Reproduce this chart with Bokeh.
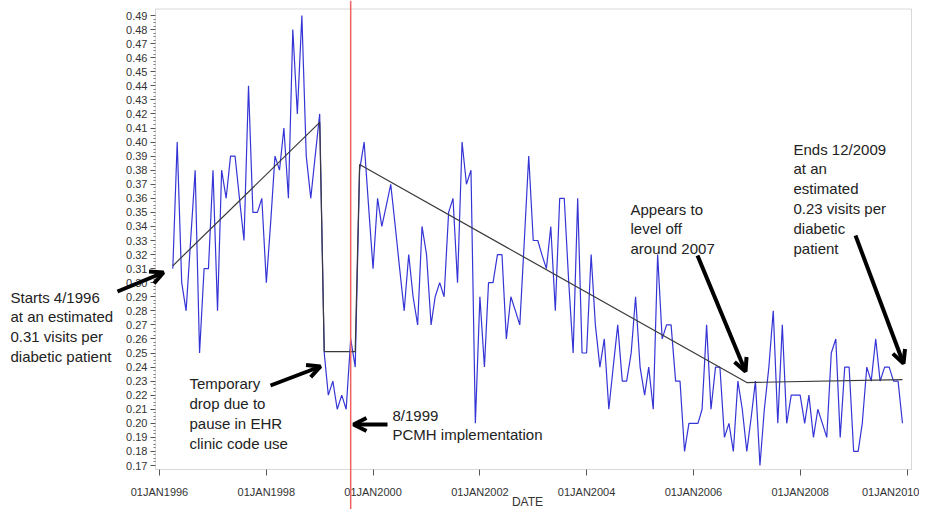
import pandas as pd
from bokeh.plotting import figure
from bokeh.models import (Range1d, FixedTicker, NumeralTickFormatter, BoxAnnotation,
                          Span, Label, Arrow, OpenHead, ColumnDataSource)
from bokeh.embed import file_html
from bokeh.resources import INLINE

# ---------------- data ----------------
first_month = "1996-04-01"
visits = [
    0.31, 0.40, 0.30, 0.28, 0.33, 0.38, 0.25, 0.31, 0.31,                     # 1996 Apr-Dec
    0.38, 0.28, 0.38, 0.36, 0.39, 0.39, 0.36, 0.33, 0.44, 0.35, 0.35, 0.36,   # 1997
    0.30, 0.345, 0.39, 0.38, 0.41, 0.36, 0.48, 0.42, 0.49, 0.39, 0.36, 0.39,  # 1998
    0.42, 0.25, 0.22, 0.23, 0.21, 0.22, 0.21, 0.26, 0.24, 0.38, 0.40, 0.355,  # 1999
    0.31, 0.36, 0.34, 0.355, 0.37, 0.34, 0.31, 0.28, 0.32, 0.29, 0.27, 0.34,  # 2000
    0.32, 0.27, 0.29, 0.30, 0.29, 0.35, 0.36, 0.30, 0.40, 0.37, 0.38, 0.20,   # 2001
    0.29, 0.24, 0.30, 0.30, 0.32, 0.32, 0.26, 0.29, 0.28, 0.27, 0.33, 0.39,   # 2002
    0.33, 0.33, 0.32, 0.31, 0.34, 0.28, 0.36, 0.36, 0.30, 0.25, 0.36, 0.25,   # 2003
    0.25, 0.32, 0.27, 0.24, 0.26, 0.21, 0.24, 0.27, 0.23, 0.23, 0.25, 0.29,   # 2004
    0.24, 0.22, 0.24, 0.21, 0.32, 0.26, 0.27, 0.27, 0.23, 0.23, 0.18, 0.20,   # 2005
    0.20, 0.20, 0.21, 0.27, 0.21, 0.24, 0.24, 0.19, 0.20, 0.18, 0.23, 0.21,   # 2006
    0.18, 0.205, 0.23, 0.17, 0.21, 0.24, 0.28, 0.20, 0.27, 0.20, 0.22, 0.22,  # 2007
    0.22, 0.20, 0.22, 0.19, 0.21, 0.20, 0.19, 0.25, 0.26, 0.19, 0.24, 0.24,   # 2008
    0.18, 0.18, 0.20, 0.24, 0.23, 0.26, 0.23, 0.24, 0.24, 0.23, 0.23, 0.20,   # 2009
]
fit_dates = ["1996-04-01", "1999-01-01", "1999-02-01", "1999-09-01",
             "1999-10-01", "2007-01-01", "2009-12-01"]
fit_values = [0.312, 0.414, 0.251, 0.251, 0.384, 0.229, 0.231]
intervention_date = "1999-08-01"
tick_dates = ["1996-01-01", "1998-01-01", "2000-01-01", "2002-01-01",
              "2004-01-01", "2006-01-01", "2008-01-01", "2010-01-01"]
tick_labels = ["01JAN1996", "01JAN1998", "01JAN2000", "01JAN2002",
               "01JAN2004", "01JAN2006", "01JAN2008", "01JAN2010"]
y_tick_min, y_tick_max, y_tick_step = 0.17, 0.49, 0.01


def ms(d):
    return pd.Timestamp(d).value / 1e6


dates = pd.date_range(first_month, periods=len(visits), freq="MS")
src = ColumnDataSource(dict(x=[ms(d) for d in dates], y=visits))
fit_src = ColumnDataSource(dict(x=[ms(d) for d in fit_dates], y=fit_values))

n_y = int(round((y_tick_max - y_tick_min) / y_tick_step))
y_ticks = [round(y_tick_min + i * y_tick_step, 2) for i in range(n_y + 1)]
y_minor = [y_tick_min + (i + j / 4) * y_tick_step for i in range(n_y) for j in (1, 2, 3)]

# ---------------- canvas geometry (pixels) ----------------
W, H = 919, 509
t0, t1 = ms(tick_dates[0]), ms(tick_dates[-1])
ppms = (906.5 - 159) / (t1 - t0)          # pixels per ms
x_start = t0 - 159 / ppms
x_end = t0 + (W - 159) / ppms
kpy = (0.49 - 0.17) / (465 - 15)           # value per pixel
y_top = 0.49 + 15 * kpy
y_bot = 0.49 - (H - 15) * kpy


def px(xp):
    return x_start + xp / ppms


def py(yp):
    return 0.49 - (yp - 15) * kpy


FONT = "Liberation Sans"

p = figure(width=W, height=H, output_backend="svg", toolbar_location=None,
           x_axis_type="datetime",
           x_range=Range1d(x_start, x_end), y_range=Range1d(y_bot, y_top),
           min_border=0, min_border_left=0, min_border_right=0,
           min_border_top=0, min_border_bottom=0)
p.background_fill_color = "white"
p.border_fill_color = "white"
p.outline_line_color = None
p.grid.visible = False

# plot box
p.add_layout(BoxAnnotation(left=px(155), right=px(911), top=py(8.5), bottom=py(469),
                           fill_color=None, line_color="#808080", line_width=1))

p.line("x", "y", source=src, line_color="#3535d6", line_width=1.2)
p.line("x", "y", source=fit_src, line_color="#3a3a3a", line_width=1.2)
p.add_layout(Span(location=ms(intervention_date), dimension="height",
                  line_color="#f06262", line_width=1.5))

# x axis (fixed at the bottom edge of the box)
xa = p.xaxis[0]
xa.fixed_location = py(469)
xa.ticker = FixedTicker(ticks=[ms(d) for d in tick_dates], minor_ticks=[])
xa.major_label_overrides = {ms(d): lab for d, lab in zip(tick_dates, tick_labels)}
xa.major_label_text_font = FONT
xa.major_label_text_font_size = "11px"
xa.major_label_text_color = "#333333"
xa.major_label_standoff = 10
xa.major_tick_out = 6
xa.major_tick_in = 0
xa.minor_tick_out = 0
xa.axis_line_color = None
xa.major_tick_line_color = "#555555"

# y axis (fixed at the left edge of the box)
ya = p.yaxis[0]
ya.fixed_location = px(155)
ya.ticker = FixedTicker(ticks=y_ticks, minor_ticks=y_minor)
ya.formatter = NumeralTickFormatter(format="0.00")
ya.major_label_text_font = FONT
ya.major_label_text_font_size = "11px"
ya.major_label_text_color = "#333333"
ya.major_label_standoff = 3
ya.major_tick_out = 5
ya.major_tick_in = 0
ya.minor_tick_out = 2
ya.minor_tick_in = 0
ya.axis_line_color = None
ya.major_tick_line_color = "#555555"
ya.minor_tick_line_color = "#777777"

# axis title
p.add_layout(Label(x=px(527), y=py(501), text="DATE", text_font=FONT,
                   text_font_size="12px", text_color="#333333",
                   text_align="center", text_baseline="middle"))

# annotations
notes = [
    (10, 288, "Starts 4/1996\nat an estimated\n0.31 visits per\ndiabetic patient"),
    (189, 374.5, "Temporary\ndrop due to\npause in EHR\nclinic code use"),
    (392, 406, "8/1999\nPCMH implementation"),
    (630, 200, "Appears to\nlevel off\naround 2007"),
    (793, 140, "Ends 12/2009\nat an\nestimated\n0.23 visits per\ndiabetic\npatient"),
]
for xp, yp, txt in notes:
    p.add_layout(Label(x=px(xp), y=py(yp), text=txt, text_font=FONT,
                       text_font_size="15px", text_color="#222222",
                       text_align="left", text_baseline="top", text_line_height=1.17))

arrows = [
    (117, 291, 163, 272),
    (270, 385, 320, 366),
    (387, 424, 353, 424),
    (697, 255, 745, 371),
    (855, 235, 903, 363),
]
for x0, y0, x1, y1 in arrows:
    p.add_layout(Arrow(end=OpenHead(size=13, line_width=4, line_color="black"),
                       x_start=px(x0), y_start=py(y0), x_end=px(x1), y_end=py(y1),
                       line_width=4, line_color="black"))

open("out.html", "w").write(file_html(p, INLINE))
